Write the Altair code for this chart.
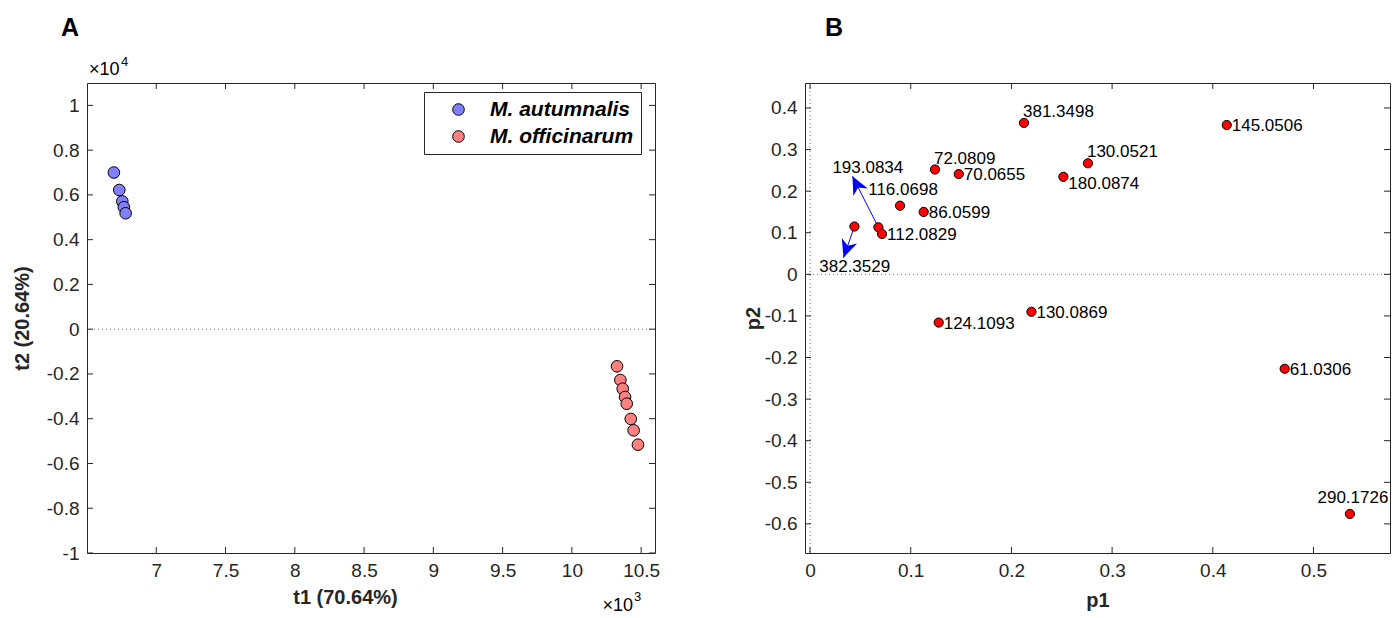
import math

import altair as alt
import pandas as pd

# ---------------- Panel A: PCA score plot ----------------
species = ["M. autumnalis", "M. officinarum"]
species_colors = ["#8080ff", "#ff8080"]

autumnalis_t1 = [6694, 6733, 6755, 6766, 6779]
autumnalis_t2 = [7000, 6220, 5710, 5450, 5180]
officinarum_t1 = [10326, 10350, 10367, 10384, 10396, 10425, 10446, 10477]
officinarum_t2 = [-1660, -2270, -2660, -3030, -3330, -4010, -4520, -5160]

t1_ticks = [7000, 7500, 8000, 8500, 9000, 9500, 10000, 10500]
t2_ticks = [-10000, -8000, -6000, -4000, -2000, 0, 2000, 4000, 6000, 8000, 10000]

# ---------------- Panel B: loading plot ----------------
ions = ["381.3498", "145.0506", "130.0521", "72.0809", "70.0655", "180.0874",
        "116.0698", "86.0599", "193.0834", "112.0829", "382.3529", "124.1093",
        "130.0869", "61.0306", "290.1726"]
p1 = [0.2125, 0.4139, 0.2760, 0.1241, 0.1477, 0.2516, 0.0894, 0.1129,
      0.0679, 0.0715, 0.0441, 0.1278, 0.2199, 0.4714, 0.5362]
p2 = [0.364, 0.359, 0.267, 0.252, 0.241, 0.2345, 0.165, 0.150,
      0.113, 0.097, 0.115, -0.116, -0.090, -0.227, -0.576]
label_side = ["ne", "e", "ne", "ne", "e", "se", "n", "e",
              "callout", "e", "callout", "e", "e", "e", "n"]

# labels that sit away from their point, joined by an arrow
callout_ions = ["193.0834", "382.3529"]
callout_tip_p1 = [0.0421, 0.0332]
callout_tip_p2 = [0.236, 0.040]
callout_text_p1 = [0.0574, 0.0444]
callout_text_p2 = [0.256, 0.018]

p1_ticks = [0, 0.1, 0.2, 0.3, 0.4, 0.5]
p2_ticks = [-0.6, -0.5, -0.4, -0.3, -0.2, -0.1, 0, 0.1, 0.2, 0.3, 0.4]

# ---------------- styling ----------------
FONT = "Liberation Sans, Arial, Helvetica, sans-serif"
INK = "#262626"
W_A, W_B, H = 568, 585, 470
TICK_LEN = 6
A_X_DOMAIN = [6500, 10600]
A_Y_DOMAIN = [-10000, 11000]
B_X_DOMAIN = [-0.005, 0.576]
B_Y_DOMAIN = [-0.67, 0.46]


def axis(title, values, expr, title_xy):
    return alt.Axis(
        title=title, values=values, labelExpr=expr, ticks=False, tickSize=0,
        domain=False, grid=False, labelFontSize=19, labelColor=INK,
        labelFont=FONT, labelPadding=8, titleFont=FONT, titleFontSize=20,
        titleFontWeight="bold", titleColor=INK, titleBaseline="middle",
        titleAlign="center", titleX=title_xy[0], titleY=title_xy[1],
    )


def inner_ticks(values, channel, scale, ax, width, height):
    """Inward-pointing tick marks on both sides of the box."""
    df = pd.DataFrame({"v": values})
    base = alt.Chart(df).mark_rule(color=INK, strokeWidth=1)
    if channel == "x":
        pos = alt.X("v:Q", scale=scale, axis=ax)
        return [
            base.encode(x=pos, y=alt.value(height), y2=alt.value(height - TICK_LEN)),
            base.encode(x=pos, y=alt.value(0), y2=alt.value(TICK_LEN)),
        ]
    pos = alt.Y("v:Q", scale=scale, axis=ax)
    return [
        base.encode(y=pos, x=alt.value(0), x2=alt.value(TICK_LEN)),
        base.encode(y=pos, x=alt.value(width), x2=alt.value(width - TICK_LEN)),
    ]


def static_text(text, x, y, size, weight="normal", align="left"):
    return alt.Chart(pd.DataFrame({"t": [text]})).mark_text(
        font=FONT, fontSize=size, fontWeight=weight, align=align,
        baseline="alphabetic", color="black",
    ).encode(text="t:N", x=alt.value(x), y=alt.value(y))


# ---------------- Panel A ----------------
sx_a = alt.Scale(domain=A_X_DOMAIN, nice=False, zero=False)
sy_a = alt.Scale(domain=A_Y_DOMAIN, nice=False, zero=False)
ax_a = axis("t1 (70.64%)", t1_ticks, "toString(datum.value / 1000)", (W_A / 2 - 26, 44))
ay_a = axis("t2 (20.64%)", t2_ticks, "toString(datum.value / 10000)", (-65, H / 2))

scores = pd.DataFrame({
    "t1": autumnalis_t1 + officinarum_t1,
    "t2": autumnalis_t2 + officinarum_t2,
    "species": [species[0]] * len(autumnalis_t1) + [species[1]] * len(officinarum_t1),
})

zero_a = alt.Chart(pd.DataFrame({"v": [0]})).mark_rule(
    color="#777777", strokeDash=[1, 3], strokeWidth=1
).encode(y=alt.Y("v:Q", scale=sy_a, axis=ay_a))

points_a = alt.Chart(scores).mark_point(
    filled=True, size=135, stroke="black", strokeWidth=1, opacity=1
).encode(
    x=alt.X("t1:Q", scale=sx_a, axis=ax_a),
    y=alt.Y("t2:Q", scale=sy_a, axis=ay_a),
    color=alt.Color(
        "species:N",
        scale=alt.Scale(domain=species, range=species_colors),
        legend=alt.Legend(
            title=None, orient="none", legendX=337, legendY=9,
            strokeColor=INK, fillColor="white", padding=7,
            symbolType="circle", symbolSize=135, symbolStrokeColor="black",
            symbolStrokeWidth=1, symbolOffset=17, labelOffset=21,
            labelFont=FONT, labelFontSize=21, labelFontStyle="italic",
            labelFontWeight="bold", labelColor="black", rowPadding=5,
        ),
    ),
)

panel_a = alt.layer(
    zero_a,
    *inner_ticks(t1_ticks, "x", sx_a, ax_a, W_A, H),
    *inner_ticks(t2_ticks, "y", sy_a, ay_a, W_A, H),
    points_a,
    static_text("A", -17, -47, 25, "bold", "center"),
    static_text("\u00d710", 2, -8, 18),
    static_text("4", 34, -17, 13),
    static_text("\u00d710", 546, H + 58, 18, align="right"),
    static_text("3", 547, H + 48, 13),
).properties(width=W_A, height=H)

# ---------------- Panel B ----------------
sx_b = alt.Scale(domain=B_X_DOMAIN, nice=False, zero=False)
sy_b = alt.Scale(domain=B_Y_DOMAIN, nice=False, zero=False)
ax_b = axis("p1", p1_ticks, "toString(datum.value)", (W_B / 2, 47))
ay_b = axis("p2", p2_ticks, "toString(datum.value)", (-52, H / 2))

loadings = pd.DataFrame({"ion": ions, "p1": p1, "p2": p2, "side": label_side})

zero_bh = alt.Chart(pd.DataFrame({"v": [0]})).mark_rule(
    color="#777777", strokeDash=[1, 3], strokeWidth=1
).encode(y=alt.Y("v:Q", scale=sy_b, axis=ay_b))
zero_bv = alt.Chart(pd.DataFrame({"v": [0]})).mark_rule(
    color="#777777", strokeDash=[1, 3], strokeWidth=1
).encode(x=alt.X("v:Q", scale=sx_b, axis=ax_b))

# arrows from each point to its detached label
px_per_p1 = W_B / (B_X_DOMAIN[1] - B_X_DOMAIN[0])
px_per_p2 = H / (B_Y_DOMAIN[1] - B_Y_DOMAIN[0])
callouts = loadings[loadings["ion"].isin(callout_ions)].set_index("ion").loc[callout_ions].reset_index()
callouts["tip_p1"] = callout_tip_p1
callouts["tip_p2"] = callout_tip_p2
callouts["text_p1"] = callout_text_p1
callouts["text_p2"] = callout_text_p2
callouts["angle"] = [
    math.degrees(math.atan2((tx - x0) * px_per_p1, (ty - y0) * px_per_p2)) % 360
    for x0, y0, tx, ty in zip(callouts["p1"], callouts["p2"], callouts["tip_p1"], callouts["tip_p2"])
]

arrow_lines = alt.Chart(callouts).mark_rule(color="#0000ff", strokeWidth=1).encode(
    x=alt.X("p1:Q", scale=sx_b, axis=ax_b),
    y=alt.Y("p2:Q", scale=sy_b, axis=ay_b),
    x2="tip_p1:Q",
    y2="tip_p2:Q",
)
ARROW_HEAD = "M0,0 L-0.45,1 L0,0.7 L0.45,1 Z"
arrow_heads = alt.Chart(callouts).mark_point(
    shape=ARROW_HEAD, filled=True, color="#0000ff", size=1300, opacity=1
).encode(
    x=alt.X("tip_p1:Q", scale=sx_b, axis=ax_b),
    y=alt.Y("tip_p2:Q", scale=sy_b, axis=ay_b),
    angle=alt.Angle("angle:Q", scale=None),
)
callout_text = alt.Chart(callouts).mark_text(
    font=FONT, fontSize=17, align="center", baseline="middle", color="black"
).encode(
    x=alt.X("text_p1:Q", scale=sx_b, axis=ax_b),
    y=alt.Y("text_p2:Q", scale=sy_b, axis=ay_b),
    text="ion:N",
)

points_b = alt.Chart(loadings).mark_point(
    filled=True, size=85, color="#ff0000", stroke="black", strokeWidth=1, opacity=1
).encode(
    x=alt.X("p1:Q", scale=sx_b, axis=ax_b),
    y=alt.Y("p2:Q", scale=sy_b, axis=ay_b),
)

# text placement relative to the point for each side
side_style = {
    "e": dict(align="left", dx=5, dy=1),
    "se": dict(align="left", dx=5, dy=7),
    "ne": dict(align="left", dx=-1, dy=-11),
    "n": dict(align="center", dx=3, dy=-16),
}
label_layers = []
for side, style in side_style.items():
    label_layers.append(
        alt.Chart(loadings[loadings["side"] == side]).mark_text(
            font=FONT, fontSize=17, baseline="middle", color="black", **style
        ).encode(
            x=alt.X("p1:Q", scale=sx_b, axis=ax_b),
            y=alt.Y("p2:Q", scale=sy_b, axis=ay_b),
            text="ion:N",
        )
    )

panel_b = alt.layer(
    zero_bh,
    zero_bv,
    *inner_ticks(p1_ticks, "x", sx_b, ax_b, W_B, H),
    *inner_ticks(p2_ticks, "y", sy_b, ay_b, W_B, H),
    arrow_lines,
    points_b,
    arrow_heads,
    callout_text,
    *label_layers,
    static_text("B", 29, -47, 25, "bold", "center"),
).properties(width=W_B, height=H)

chart = (
    alt.hconcat(panel_a, panel_b, spacing=150, bounds="flush")
    .properties(padding={"left": 11, "top": 15, "right": 0, "bottom": 0}, background="white")
    .configure(font=FONT)
    .configure_view(stroke=INK, strokeWidth=1)
)

chart.save("out.html", embed_options={"renderer": "svg", "actions": False})
